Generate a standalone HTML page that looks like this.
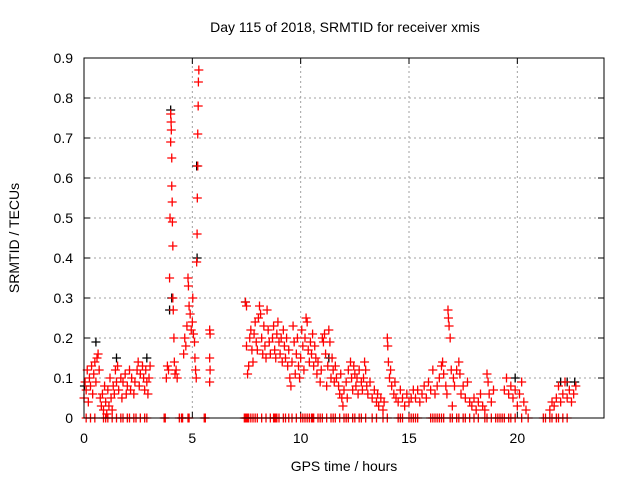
<!DOCTYPE html>
<html><head><meta charset="utf-8"><style>
html,body{margin:0;padding:0;background:#fff;}
svg{display:block;font-family:"Liberation Sans",sans-serif;}
</style></head><body>
<svg id="chart" width="640" height="480" xmlns="http://www.w3.org/2000/svg">
<rect width="640" height="480" fill="#fff"/>
<text x="345" y="32" font-size="14" text-anchor="middle">Day 115 of 2018, SRMTID for receiver xmis</text>
<text x="344" y="471" font-size="14" text-anchor="middle">GPS time / hours</text>
<text transform="translate(19,238) rotate(-90)" font-size="14" text-anchor="middle">SRMTID / TECUs</text>
<g id="grid"></g>
<g id="ticks"></g>
<g id="black"></g>
<g id="red"></g>
<rect x="84" y="58" width="520" height="360" fill="none" stroke="#000" stroke-width="1"/>
</svg>
<script>
const xTicks=[0,5,10,15,20];
const yTicks=[0,0.1,0.2,0.3,0.4,0.5,0.6,0.7,0.8,0.9];
const redT=[0.0,0.05,0.1,0.15,0.2,0.25,0.3,0.35,0.4,0.45,0.5,0.55,0.6,0.65,0.7,0.75,0.8,
0.85,0.9,0.95,1.0,1.05,1.1,1.15,1.2,1.25,1.3,1.35,1.4,1.45,1.5,
1.55,1.6,1.7,1.75,1.8,1.9,1.95,2.0,2.1,2.15,2.2,2.3,2.35,2.45,2.5,2.55,2.6,2.7,2.75,2.8,2.85,2.9,2.95,3.0,3.05,
3.8,3.85,3.9,3.95,3.97,4.0,4.0,4.02,4.03,4.05,4.05,4.07,4.08,4.1,4.1,4.12,4.15,4.17,4.2,4.25,4.3,
4.6,4.65,4.7,4.75,4.8,4.82,4.85,4.9,4.95,5.0,5.02,5.05,5.1,5.12,5.15,5.18,5.2,5.22,5.23,5.25,5.25,5.27,5.28,5.3,
5.8,5.82,5.8,5.82,5.8,
7.45,7.5,7.5,7.55,7.6,7.65,7.7,7.75,7.8,7.85,7.9,7.95,8.0,8.05,8.1,8.15,8.2,8.25,8.3,8.35,8.4,8.45,8.5,8.55,8.6,8.7,8.75,8.8,8.85,8.9,8.95,9.0,9.05,9.1,9.15,9.2,9.25,9.3,9.35,9.4,9.45,9.5,9.55,9.6,9.65,9.7,9.75,9.8,9.85,9.9,9.95,10.0,10.05,10.1,10.15,10.2,10.25,10.3,10.35,10.4,10.45,10.5,10.55,10.6,10.65,10.7,10.75,10.8,10.9,10.95,11.0,11.05,11.1,11.15,11.2,11.25,11.3,11.35,11.4,11.45,
11.5,11.55,11.6,11.65,11.75,11.8,11.85,11.9,11.95,12.0,12.1,12.15,12.2,12.3,12.35,12.4,12.45,12.5,12.55,12.6,12.65,12.7,12.8,12.85,12.9,12.95,13.0,13.05,13.1,13.2,13.3,13.4,13.5,13.55,13.6,13.7,13.8,13.85,
14.0,14.02,14.05,14.1,14.15,14.2,14.3,14.35,14.4,14.5,14.6,14.7,14.8,14.9,15.0,15.1,15.2,15.3,
15.4,15.5,15.6,15.7,15.8,15.9,16.0,16.1,16.2,16.3,16.4,16.5,16.55,16.6,16.7,16.75,16.8,16.82,16.85,16.9,16.95,17.0,17.05,17.1,17.2,17.3,17.35,17.4,17.5,17.6,17.7,17.8,
17.9,18.0,18.1,18.2,18.3,18.4,18.5,18.6,18.65,18.7,18.8,18.9,
19.4,19.5,19.6,19.7,19.8,19.9,20.0,20.1,20.2,20.3,20.4,
21.5,21.6,21.7,21.8,21.9,22.0,22.1,22.2,22.3,22.4,22.5,22.6,22.7];
const redV=[0.05,0.09,0.07,0.12,0.04,0.1,0.08,0.13,0.06,0.11,0.14,0.09,0.15,0.16,0.12,0.05,0.03,
0.06,0.02,0.08,0.04,0.01,0.07,0.03,0.1,0.05,0.02,0.08,0.06,0.12,0.09,
0.13,0.07,0.1,0.05,0.09,0.11,0.06,0.08,0.12,0.07,0.1,0.06,0.09,0.12,0.14,0.08,0.11,0.13,0.1,0.07,0.12,0.09,0.06,0.1,0.13,
0.1,0.13,0.12,0.35,0.5,0.69,0.76,0.74,0.72,0.65,0.58,0.54,0.49,0.43,0.3,0.27,0.2,0.14,0.11,0.12,0.1,
0.16,0.2,0.18,0.23,0.35,0.33,0.28,0.26,0.22,0.24,0.3,0.21,0.19,0.15,0.12,0.1,0.39,0.46,0.55,0.63,0.71,0.78,0.84,0.87,
0.22,0.21,0.15,0.12,0.09,
0.29,0.28,0.18,0.11,0.13,0.2,0.22,0.17,0.14,0.21,0.24,0.19,0.17,0.25,0.28,0.26,0.2,0.16,0.23,0.18,0.15,0.27,0.22,0.19,0.16,0.2,0.23,0.17,0.15,0.21,0.24,0.19,0.16,0.2,0.14,0.22,0.18,0.15,0.2,0.13,0.17,0.1,0.08,0.14,0.23,0.19,0.11,0.16,0.2,0.13,0.1,0.15,0.22,0.18,0.12,0.2,0.25,0.24,0.17,0.14,0.19,0.16,0.21,0.13,0.18,0.15,0.11,0.14,0.09,0.12,0.2,0.19,0.21,0.16,0.08,0.13,0.22,0.19,0.1,0.15,
0.12,0.09,0.13,0.1,0.08,0.06,0.11,0.05,0.03,0.07,0.09,0.05,0.12,0.14,0.1,0.07,0.13,0.11,0.08,0.1,0.06,0.12,0.09,0.07,0.1,0.14,0.12,0.08,0.06,0.09,0.05,0.07,0.04,0.06,0.03,0.05,0.02,0.04,
0.2,0.18,0.14,0.1,0.12,0.08,0.06,0.09,0.05,0.04,0.07,0.05,0.03,0.06,0.04,0.05,0.07,0.05,
0.07,0.04,0.06,0.08,0.05,0.09,0.07,0.12,0.06,0.08,0.1,0.13,0.14,0.11,0.08,0.06,0.27,0.25,0.23,0.2,0.12,0.03,0.1,0.08,0.12,0.14,0.11,0.06,0.08,0.05,0.09,0.04,
0.03,0.05,0.02,0.04,0.06,0.03,0.02,0.11,0.09,0.06,0.04,0.07,
0.07,0.1,0.06,0.08,0.05,0.07,0.03,0.06,0.09,0.04,0.02,
0.02,0.04,0.03,0.05,0.08,0.04,0.06,0.09,0.05,0.07,0.04,0.06,0.08];
const zeroT=[0.1,0.3,0.5,0.9,1.0,1.1,1.3,1.5,1.7,1.8,2.0,2.1,2.3,2.4,2.6,2.8,2.9,3.7,3.75,4.4,4.5,4.55,4.8,4.85,5.55,5.6,7.4,7.45,7.5,7.55,7.6,7.7,7.8,7.9,8.0,8.2,8.4,8.6,8.75,8.8,8.85,8.9,9.0,9.2,9.3,9.45,9.6,9.8,10.0,10.1,10.2,10.3,10.4,10.5,10.55,10.6,10.8,10.9,11.0,11.2,11.4,11.5,11.6,11.8,12.0,12.1,12.2,12.4,12.5,12.7,12.8,13.0,13.3,13.5,13.8,14.0,14.5,14.6,14.7,15.0,15.1,15.2,15.3,15.4,16.0,16.1,16.2,16.3,16.4,16.5,16.6,16.9,17.0,17.2,17.3,17.5,17.6,17.8,18.0,18.2,18.5,18.6,18.8,19.0,19.1,19.2,19.3,19.4,19.6,19.7,19.9,20.2,20.5,21.2,21.3,21.5,21.6,21.8,21.9,22.1,22.3];
const blackT=[0.02,0.55,1.5,2.9,3.95,4.0,4.05,5.2,5.22,7.45,11.3,19.9,22.0,22.3,22.65];
const blackV=[0.08,0.19,0.15,0.15,0.27,0.77,0.3,0.63,0.4,0.29,0.15,0.1,0.09,0.09,0.09];

const NS='http://www.w3.org/2000/svg';
const X0=84,X1=604,Y0=418,Y1=58,XMAX=24,YMAX=0.9;
function xs(t){return X0+(t/XMAX)*(X1-X0);}
function ys(v){return Y0-(v/YMAX)*(Y0-Y1);}
function mk(tag,attrs,parent){const e=document.createElementNS(NS,tag);for(const k in attrs)e.setAttribute(k,attrs[k]);parent.appendChild(e);return e;}
const grid=document.getElementById('grid'),ticks=document.getElementById('ticks');
xTicks.forEach(t=>{const x=xs(t);
 if(t>0){const g=mk('line',{x1:x,y1:Y0,x2:x,y2:Y1,stroke:'#a0a0a0','stroke-dasharray':'2,3'},grid);
 
 }
 mk('line',{x1:x,y1:Y0,x2:x,y2:Y0-6,stroke:'#000'},ticks);
 mk('line',{x1:x,y1:Y1,x2:x,y2:Y1+6,stroke:'#000'},ticks);
 const l=mk('text',{x:x,y:443,'font-size':14,'text-anchor':'middle'},ticks);l.textContent=t;
 
 
});
yTicks.forEach(v=>{const y=ys(v);
 if(v>0&&v<0.9){const g=mk('line',{x1:X0,y1:y,x2:X1,y2:y,stroke:'#a0a0a0','stroke-dasharray':'2,3'},grid);
 
 }
 mk('line',{x1:X0,y1:y,x2:X0+6,y2:y,stroke:'#000'},ticks);
 mk('line',{x1:X1,y1:y,x2:X1-6,y2:y,stroke:'#000'},ticks);
 const l=mk('text',{x:73,y:y+5,'font-size':14,'text-anchor':'end'},ticks);l.textContent=(v===0?'0':v.toFixed(1));
 
 
});
function plus(parent,t,v,color){const x=xs(t),y=ys(v);
 const p=mk('path',{d:`M${x-4.5},${y}H${x+4.5}M${x},${y-4.5}V${y+4.5}`,stroke:color,'stroke-width':1.3,fill:'none'},parent);
 
 
}
const blk=document.getElementById('black'),red=document.getElementById('red');
blackT.forEach((t,i)=>plus(blk,t,blackV[i],'#000'));
redT.forEach((t,i)=>plus(red,t,redV[i],'#ff0000'));
zeroT.forEach(t=>plus(red,t,0,'#ff0000'));
</script>
</body></html>
